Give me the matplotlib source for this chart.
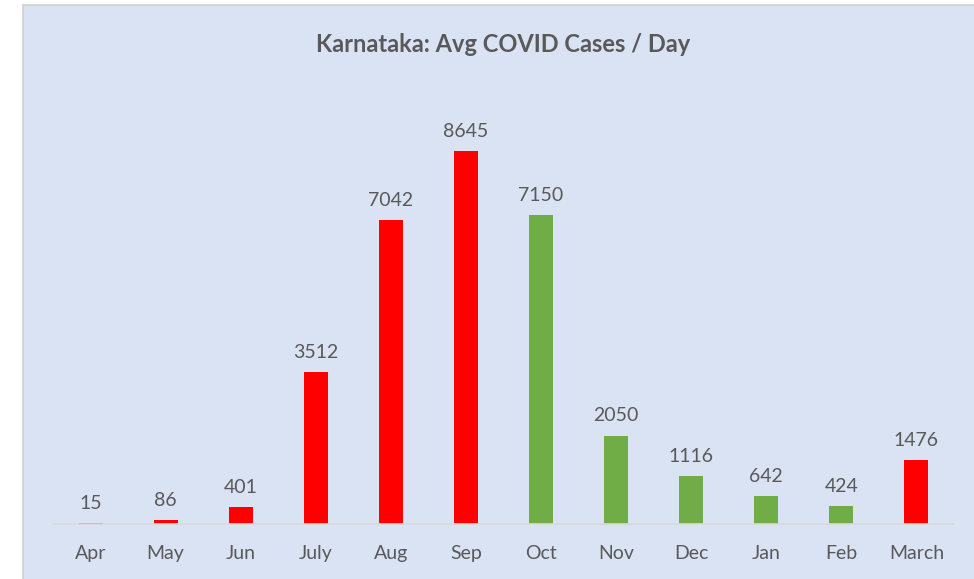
import matplotlib.pyplot as plt
from matplotlib.patches import Rectangle

months = ['Apr', 'May', 'Jun', 'July', 'Aug', 'Sep', 'Oct', 'Nov', 'Dec', 'Jan', 'Feb', 'March']
cases = [15, 86, 401, 3512, 7042, 8645, 7150, 2050, 1116, 642, 424, 1476]
colours = ['#FF0000'] * 6 + ['#70AD47'] * 5 + ['#FF0000']

plt.rcParams['font.family'] = ['Lato', 'DejaVu Sans']
txt = '#595959'
bg = '#DAE3F3'

fig = plt.figure(figsize=(9.74, 5.79), dpi=100)
fig.patch.set_facecolor('white')
# chart area panel, behind the axes (runs off the bottom/right edges)
fig.patches.append(Rectangle((23 / 974, -0.05), 1, 1.05 - 5 / 579, transform=fig.transFigure,
                             facecolor=bg, edgecolor='#D0D0D0', lw=1.2, zorder=-5))

ax = fig.add_axes([53 / 974, 55 / 579, 901 / 974, 444 / 579])
ax.set_facecolor('none')
ax.set_zorder(2)

x = range(len(months))
bars = ax.bar(x, cases, width=0.32, color=colours, zorder=2)
for xi, v in zip(x, cases):
    ax.annotate(str(v), (xi, v), xytext=(0, 8), textcoords='offset points',
                ha='center', va='bottom', fontsize=14, color=txt)

ax.set_xlim(-0.5, len(months) - 0.5)
ax.set_ylim(0, 10290)
ax.set_xticks(list(x))
ax.set_xticklabels(months, fontsize=14, color=txt)
ax.tick_params(axis='x', length=0, pad=15)
ax.set_yticks([])
for s in ['top', 'right', 'left']:
    ax.spines[s].set_visible(False)
ax.spines['bottom'].set_color('#D9D9D9')
ax.spines['bottom'].set_linewidth(1.2)

fig.text(503 / 974, 1 - 44 / 579, 'Karnataka: Avg COVID Cases / Day', ha='center', va='center',
         fontsize=17, fontweight='bold', color=txt, zorder=3)

fig.savefig('out.png', dpi=100, facecolor=fig.get_facecolor())
